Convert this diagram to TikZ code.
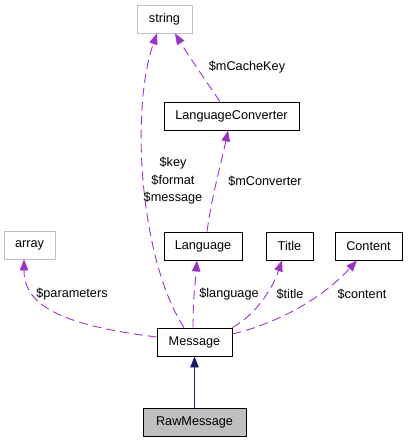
\documentclass[tikz,border=0pt]{standalone}
\usepackage{fontspec}
\setmainfont{Liberation Sans}
\usepackage{tikz}
\usetikzlibrary{arrows.meta}
\definecolor{edgepurple}{HTML}{9A32CD}
\definecolor{edgenavy}{HTML}{191970}
\definecolor{boxgray}{HTML}{BFBFBF}
\tikzset{
  classbox/.style={draw=black,line width=0.9pt,minimum height=28pt,inner sep=0pt,
    font=\fontsize{12.7}{15}\selectfont},
  extbox/.style={classbox,draw=boxgray},
  usearrow/.style={-{Triangle[length=11pt,width=8.5pt,fill=edgepurple]},draw=edgepurple,
    line width=0.9pt,dash pattern=on 9pt off 5pt},
  basearrow/.style={-{Triangle[length=11pt,width=8.5pt,fill=edgenavy]},draw=edgenavy,line width=0.9pt},
  edgelabel/.style={font=\fontsize{12.7}{17.5}\selectfont,align=center,inner sep=0pt}
}
\begin{document}
\begin{tikzpicture}[x=1pt,y=-1pt]
  \useasboundingbox (0,0) rectangle (408,443);
  % classes
  \node[extbox,minimum width=55pt] (str) at (164.5,19) {string};
  \node[classbox,minimum width=135pt] (lc) at (231.5,116) {LanguageConverter};
  \node[extbox,minimum width=51pt] (arr) at (29.5,245) {array};
  \node[classbox,minimum width=78pt] (lang) at (203,246) {Language};
  \node[classbox,minimum width=47pt] (title) at (289.5,246) {Title};
  \node[classbox,minimum width=67pt] (content) at (368.5,246) {Content};
  \node[classbox,minimum width=75pt] (msg) at (194.5,342) {Message};
  \node[classbox,minimum width=103pt,fill=boxgray] (raw) at (194.5,422.5) {RawMessage};
  % inheritance
  \draw[basearrow] (raw.north) -- (msg.south);
  % members
  \draw[usearrow] ([xshift=-10.5pt]msg.north) .. controls (140,260) and (130,110) .. ([xshift=-7.5pt]str.south);
  \node[edgelabel] (keylbl) at (173,181) {\$key\\\$format\\\$message};
  \draw[usearrow] ([xshift=-11.5pt]lc.north) .. controls (205,80) and (185,50) .. ([xshift=10.5pt]str.south);
  \node[edgelabel] (cachelbl) at (247,67) {\$mCacheKey};
  \draw[usearrow] ([xshift=4pt]lang.north) .. controls (212,195) and (222,160) .. ([xshift=-3.5pt]lc.south);
  \node[edgelabel] (convlbl) at (265,181) {\$mConverter};
  \draw[usearrow] ([yshift=5pt]msg.west) .. controls (60,325) and (24,305) .. ([xshift=-5.5pt]arr.south);
  \node[edgelabel] (paramlbl) at (72,294) {\$parameters};
  \draw[usearrow] ([xshift=-1.5pt]msg.north) .. controls (193,300) and (195,285) .. ([xshift=-6pt]lang.south);
  \node[edgelabel] (langlbl) at (229,294) {\$language};
  \draw[usearrow] (msg.north east) .. controls (255,315) and (272,290) .. ([xshift=-7.5pt]title.south);
  \node[edgelabel] (titlelbl) at (290,294) {\$title};
  \draw[usearrow] ([yshift=8pt]msg.east) .. controls (290,320) and (330,290) .. ([xshift=-11.5pt]content.south);
  \node[edgelabel] (contentlbl) at (362,294) {\$content};
\end{tikzpicture}
\end{document}
